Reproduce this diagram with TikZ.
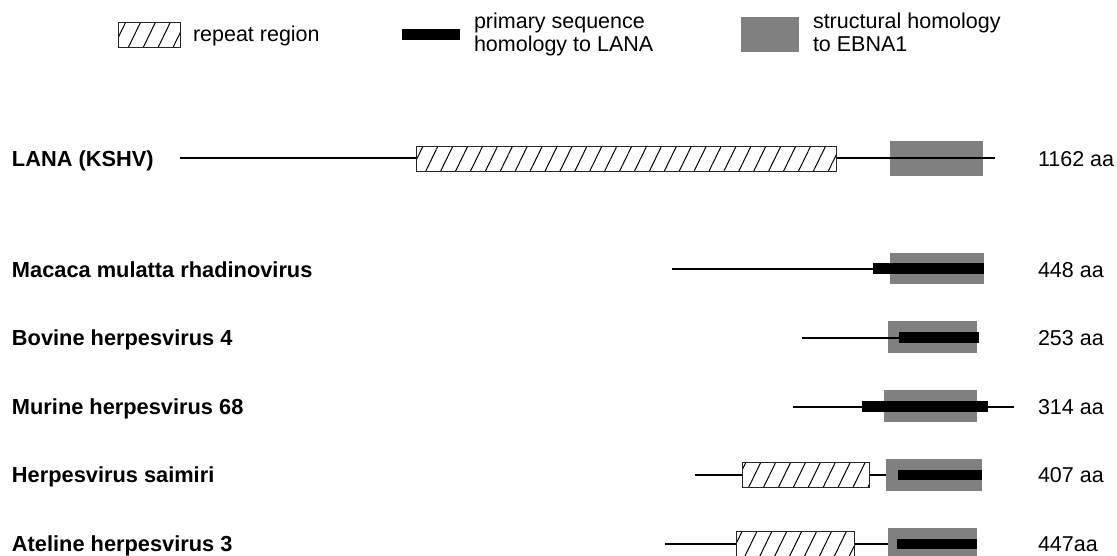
\documentclass[tikz,border=0pt]{standalone}
\usepackage{fontspec}
\setmainfont{Liberation Sans}
\usetikzlibrary{patterns.meta}
\definecolor{hgray}{RGB}{128,128,128}
\tikzset{
  every node/.style={inner sep=0pt, outer sep=0pt},
  lbl/.style={font=\fontsize{21.8}{24}\selectfont\bfseries, anchor=base west},
  len/.style={font=\fontsize{21.5}{24}\selectfont, anchor=base west},
  leg/.style={font=\fontsize{21.5}{23.5}\selectfont, anchor=base west, align=left},
  seqline/.style={line width=2pt, black},
  hatchbox/.style={draw=black!85, line width=1pt, preaction={fill=white},
    pattern={Lines[angle=64, distance=13.4pt, line width=1pt]}},
  graybox/.style={fill=hgray},
  blackbar/.style={fill=black},
}
% \rbox{name}{style}{x1}{y1}{x2}{y2}
\newcommand{\rbox}[6]{%
  \node[#2, minimum width={(#5)-(#3)}, minimum height={(#6)-(#4)}]
    (#1) at ({((#3)+(#5))/2},{((#4)+(#6))/2}) {};}
\begin{document}
\begin{tikzpicture}[x=1pt,y=-1pt]
\useasboundingbox (0,0) rectangle (1117,555);
\clip (0,0) rectangle (1117,555);

% ---------- legend ----------
\rbox{lghatch}{hatchbox}{118}{22}{180}{47}
\node[leg] (lgtxt1) at (193,41) {repeat region};
\rbox{lgbar}{blackbar}{402}{29}{460}{40}
\node[leg] (lgtxt2) at (474,51.5) {primary sequence\\homology to LANA};
\rbox{lggray}{graybox}{741}{17}{799}{52}
\node[leg] (lgtxt3) at (813,51.5) {structural homology\\to EBNA1};

% ---------- LANA (KSHV) ----------
\node[lbl] (n1) at (12,166) {LANA (KSHV)};
\coordinate (a1) at (180,158);
\coordinate (b1) at (995,158);
\rbox{g1}{graybox}{890}{141}{983}{176}
\draw[seqline] (a1) -- (b1);
\rbox{h1}{hatchbox}{416}{146}{836}{171}
\node[len] (l1) at (1038,166) {1162 aa};

% ---------- Macaca mulatta rhadinovirus ----------
\node[lbl] (n2) at (12,277) {Macaca mulatta rhadinovirus};
\coordinate (a2) at (672,268.5);
\rbox{g2}{graybox}{890}{253}{984}{284}
\rbox{k2}{blackbar}{873}{263}{984}{274}
\draw[seqline] (a2) -- (a2 -| k2.west);
\node[len] (l2) at (1038,277) {448 aa};

% ---------- Bovine herpesvirus 4 ----------
\node[lbl] (n3) at (12,345) {Bovine herpesvirus 4};
\coordinate (a3) at (802,337.5);
\rbox{g3}{graybox}{888}{321}{977}{353}
\rbox{k3}{blackbar}{899}{332}{979}{343}
\draw[seqline] (a3) -- (a3 -| k3.west);
\node[len] (l3) at (1038,345) {253 aa};

% ---------- Murine herpesvirus 68 ----------
\node[lbl] (n4) at (12,414) {Murine herpesvirus 68};
\coordinate (a4) at (793,406.5);
\coordinate (b4) at (1014,406.5);
\draw[seqline] (a4) -- (b4);
\rbox{g4}{graybox}{884}{390}{977}{422}
\rbox{k4}{blackbar}{862}{401}{988}{412}
\node[len] (l4) at (1038,414) {314 aa};

% ---------- Herpesvirus saimiri ----------
\node[lbl] (n5) at (12,482) {Herpesvirus saimiri};
\coordinate (a5) at (695,474.5);
\coordinate (b5) at (888,474.5);
\draw[seqline] (a5) -- (b5);
\rbox{h5}{hatchbox}{742}{462}{869}{487}
\rbox{g5}{graybox}{886}{459}{982}{491}
\rbox{k5}{blackbar}{898}{470}{982}{480}
\node[len] (l5) at (1038,482) {407 aa};

% ---------- Ateline herpesvirus 3 ----------
\node[lbl] (n6) at (12,551) {Ateline herpesvirus 3};
\coordinate (a6) at (665,543.5);
\coordinate (b6) at (890,543.5);
\draw[seqline] (a6) -- (b6);
\rbox{h6}{hatchbox}{736}{531}{854}{556}
\rbox{g6}{graybox}{888}{528}{977}{560}
\rbox{k6}{blackbar}{897}{539}{977}{549}
\node[len] (l6) at (1038,551) {447aa};
\end{tikzpicture}
\end{document}
